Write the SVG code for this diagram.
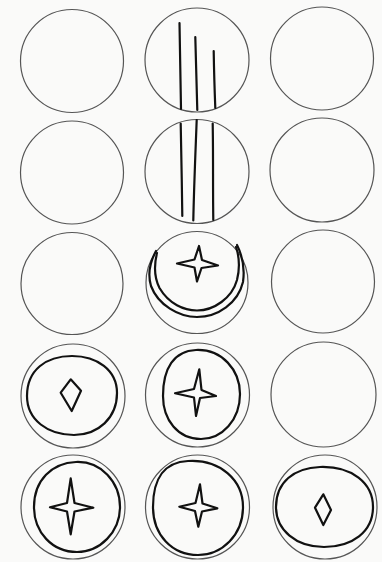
<svg xmlns="http://www.w3.org/2000/svg" width="382" height="562" viewBox="0 0 382 562">
<style>
.o{fill:none;stroke:#555;stroke-width:1.2}
.t{fill:none;stroke:#111;stroke-width:2.2;stroke-linejoin:round;stroke-linecap:round}
</style>
<rect width="382" height="562" fill="#fafaf9"/>
<g id="r1c1"><circle class="o" cx="72" cy="61" r="51.5"/></g>
<g id="r1c2"><circle class="o" cx="197" cy="60" r="52"/>
<path class="t" d="M179.5 23 C180 52 180.5 80 181 109"/>
<path class="t" d="M195.3 37 C196 62 196.5 86 197.3 110"/>
<path class="t" d="M213.7 51 C214 70 214.6 90 215.3 108"/>
</g>
<g id="r1c3"><circle class="o" cx="322" cy="58.5" r="51.5"/></g>
<g id="r2c1"><circle class="o" cx="72" cy="172.5" r="51.5"/></g>
<g id="r2c2"><circle class="o" cx="197" cy="171.5" r="52"/>
<path class="t" d="M180.7 123.5 C181.5 155 181.8 185 182.3 216"/>
<path class="t" d="M196.7 120 C195.5 152 194 186 193.3 220.5"/>
<path class="t" d="M212.7 123.5 C213.3 155 212.8 188 213.3 220"/>
</g>
<g id="r2c3"><circle class="o" cx="322" cy="170" r="52"/></g>
<g id="r3c1"><circle class="o" cx="72" cy="283.5" r="51"/></g>
<g id="r3c2"><circle class="o" cx="197" cy="282.5" r="51"/>
<path class="t" d="M156 251 C150 262 147.5 274 151 286 C158 305 179 317 197 317 C218 317 238 303 243 282 C245 268 242 255 237 245"/>
<path class="t" d="M157 253 C154 265 154.5 278 159.5 288 C169 304 184 310.5 197 310.5 C214 310.5 232 298 237 280 C240 268 239 256 236 247"/>
<path class="t" d="M199 246 L202 260 L218 265.5 L201.5 268 L197 281.5 L194.5 267.5 L177 263.5 L194.5 259.5 Z"/>
</g>
<g id="r3c3"><circle class="o" cx="323" cy="281.5" r="51.5"/></g>
<g id="r4c1"><circle class="o" cx="73" cy="396" r="52"/>
<path class="t" d="M72 356 C97 356 117 370 117 393 C117 418 98 435 74 435 C48 435 27 420 27 396 C27 370 46 356 72 356 Z"/>
<path class="t" d="M70.7 379.3 L81 390.7 L71.7 411 L60.7 392.7 Z"/>
</g>
<g id="r4c2"><circle class="o" cx="197.5" cy="395" r="52"/>
<path class="t" d="M196 350 C222 349 240 370 240 394 C240 420 222 439 201 439 C178 439 163 420 163 396 C163 368 174 351 196 350 Z"/>
<path class="t" d="M199.3 369.3 L201.5 390 L216 396 L200 398 L196 416 L194 397.5 L175 393.3 L194 389 Z"/>
</g>
<g id="r4c3"><circle class="o" cx="323.5" cy="394.5" r="52.5"/></g>
<g id="r5c1"><circle class="o" cx="73" cy="507" r="52"/>
<path class="t" d="M76 462 C101 461 120 482 120 507 C120 532 100 552 77 552 C52 552 34 532 34 507 C34 480 52 463 76 462 Z"/>
<path class="t" d="M70.7 478.3 L74.5 503 L93.3 507.7 L74.5 511.5 L70.7 534.3 L67 511.5 L50 507.3 L67 503 Z"/>
</g>
<g id="r5c2"><circle class="o" cx="197.5" cy="507" r="52"/>
<path class="t" d="M188 461 C220 459 243 480 243 507 C243 535 222 555 198 555 C172 555 153 535 153 507 C153 478 165 462 188 461 Z"/>
<path class="t" d="M200 484.3 L202.5 503.5 L217.3 508.3 L202 511.5 L198.3 526.7 L195 511 L179.3 506.7 L195.5 503 Z"/>
</g>
<g id="r5c3"><circle class="o" cx="325" cy="507" r="52"/>
<path class="t" d="M320 467 C352 466 373 483 373 507 C373 532 352 547 324 547 C296 547 276 530 276 507 C276 482 294 468 320 467 Z"/>
<path class="t" d="M323.3 494.3 L331 510 L323.3 525 L315 507.7 Z"/>
</g>
<g id="connectors"></g>
</svg>
